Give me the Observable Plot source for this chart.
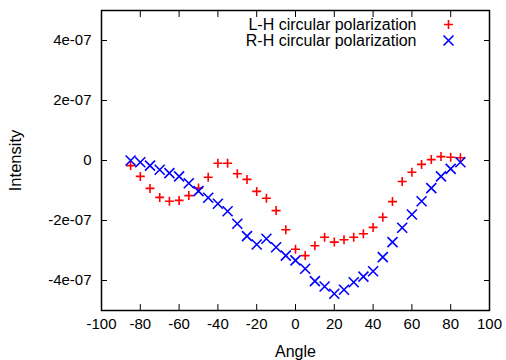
<!DOCTYPE html>
<html><head><meta charset="utf-8">
<script src="https://cdn.jsdelivr.net/npm/d3@7"></script>
<script src="https://cdn.jsdelivr.net/npm/@observablehq/plot@0.6"></script>
<style>body{margin:0;background:#fff}</style>
</head><body><div id="chart"></div>
<script>
const angles = [-85,-80,-75,-70,-65,-60,-55,-50,-45,-40,-35,-30,-25,-20,-15,-10,-5,0,5,10,15,20,25,30,35,40,45,50,55,60,65,70,75,80,85];
const lhValues = [-0.17e-7,-0.53e-7,-0.93e-7,-1.23e-7,-1.36e-7,-1.33e-7,-1.17e-7,-0.92e-7,-0.56e-7,-0.09e-7,-0.09e-7,-0.44e-7,-0.63e-7,-1.03e-7,-1.26e-7,-1.67e-7,-2.31e-7,-2.96e-7,-3.17e-7,-2.84e-7,-2.56e-7,-2.72e-7,-2.64e-7,-2.56e-7,-2.44e-7,-2.23e-7,-1.89e-7,-1.37e-7,-0.70e-7,-0.39e-7,-0.13e-7,0.03e-7,0.13e-7,0.11e-7,0.09e-7];
const rhValues = [0.0e-7,-0.06e-7,-0.17e-7,-0.31e-7,-0.42e-7,-0.53e-7,-0.76e-7,-1.02e-7,-1.24e-7,-1.44e-7,-1.69e-7,-2.11e-7,-2.52e-7,-2.80e-7,-2.61e-7,-2.89e-7,-3.17e-7,-3.33e-7,-3.61e-7,-4.02e-7,-4.20e-7,-4.44e-7,-4.31e-7,-4.06e-7,-3.87e-7,-3.69e-7,-3.22e-7,-2.72e-7,-2.24e-7,-1.80e-7,-1.36e-7,-0.92e-7,-0.53e-7,-0.28e-7,-0.06e-7];
const seriesNames = ["L-H circular polarization", "R-H circular polarization"];
const seriesColors = ["#ff0000", "#0000ff"];
const xTicks = [-100,-80,-60,-40,-20,0,20,40,60,80,100];
const xTickLabels = ["-100","-80","-60","-40","-20","0","20","40","60","80","100"];
const yTicks = [-4e-7,-2e-7,0,2e-7,4e-7];
const yTickLabels = ["-4e-07","-2e-07","0","2e-07","4e-07"];
const xLabel = "Angle";
const yLabel = "Intensity";

const plusSym = {draw(ctx, size){const r = Math.sqrt(size/Math.PI); ctx.moveTo(-r,0); ctx.lineTo(r,0); ctx.moveTo(0,-r); ctx.lineTo(0,r);}};
const crossSym = {draw(ctx, size){const r = Math.sqrt(size/Math.PI); ctx.moveTo(-r,-r); ctx.lineTo(r,r); ctx.moveTo(-r,r); ctx.lineTo(r,-r);}};

const lhRows = angles.map((a,i) => ({angle: a, value: lhValues[i]}));
const rhRows = angles.map((a,i) => ({angle: a, value: rhValues[i]}));

const chart = Plot.plot({
  width: 506, height: 360,
  marginLeft: 101, marginRight: 17, marginTop: 10, marginBottom: 50,
  style: {fontFamily: "'Liberation Sans', Arial, sans-serif", fontSize: "15px", background: "white", color: "black"},
  x: {domain: [-100, 100]},
  y: {domain: [-5e-7, 5e-7]},
  marks: [
    Plot.axisX({anchor: "bottom", ticks: xTicks, tickSize: -6, tickPadding: 14, tickFormat: d => xTickLabels[xTicks.indexOf(d)], label: null, fontSize: 15}),
    Plot.axisX({anchor: "top", ticks: xTicks, tickSize: -6, tickFormat: () => "", label: null}),
    Plot.axisY({anchor: "left", ticks: yTicks, tickSize: -6, tickPadding: 16, tickFormat: d => yTickLabels[yTicks.indexOf(d)], label: null, fontSize: 15}),
    Plot.axisY({anchor: "right", ticks: yTicks, tickSize: -6, tickFormat: () => "", label: null}),
    Plot.text([xLabel], {text: d => d, frameAnchor: "bottom", dy: 41, lineAnchor: "middle", fontSize: 16, fill: "black"}),
    Plot.text([yLabel], {text: d => d, frameAnchor: "left", dx: -86, rotate: -90, lineAnchor: "middle", textAnchor: "middle", fontSize: 16.5, fill: "black"}),
    Plot.frame({stroke: "black", strokeWidth: 1.5}),
    Plot.dot(lhRows, {x: "angle", y: "value", symbol: plusSym, r: 4.5, fill: "none", stroke: seriesColors[0], strokeWidth: 1.6}),
    Plot.dot(rhRows, {x: "angle", y: "value", symbol: crossSym, r: 5, fill: "none", stroke: seriesColors[1], strokeWidth: 1.6}),
    Plot.text([seriesNames[0]], {text: d => d, frameAnchor: "top-right", dx: -73, dy: 14, textAnchor: "end", lineAnchor: "middle", fontSize: 16, fill: "black"}),
    Plot.text([seriesNames[1]], {text: d => d, frameAnchor: "top-right", dx: -73, dy: 30, textAnchor: "end", lineAnchor: "middle", fontSize: 16, fill: "black"}),
    Plot.dot([0], {frameAnchor: "top-right", dx: -41, dy: 14, symbol: plusSym, r: 4.5, fill: "none", stroke: seriesColors[0], strokeWidth: 1.6}),
    Plot.dot([0], {frameAnchor: "top-right", dx: -41, dy: 30, symbol: crossSym, r: 5, fill: "none", stroke: seriesColors[1], strokeWidth: 1.6})
  ]
});
document.getElementById("chart").appendChild(chart);
</script>
</body></html>
